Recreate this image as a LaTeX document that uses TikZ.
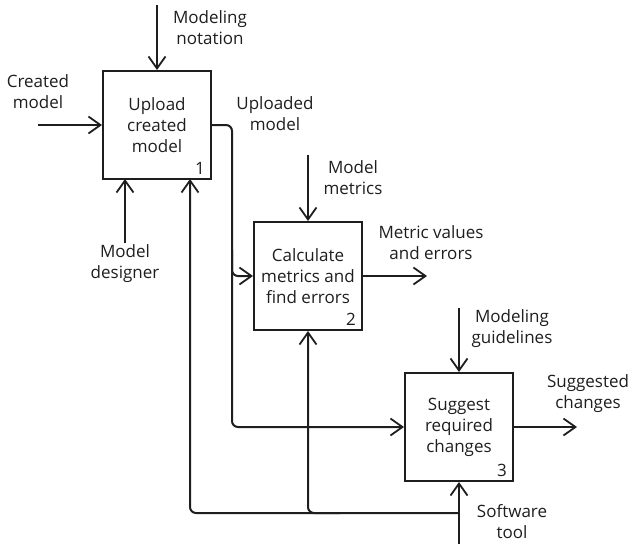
\documentclass[tikz,border=0pt]{standalone}
\usepackage{fontspec}
\setmainfont{Open Sans}
\usetikzlibrary{arrows.meta}
\definecolor{ink}{HTML}{1E1E1E}
\begin{document}
\begin{tikzpicture}[x=1pt,y=-1pt,
  every node/.style={font=\fontsize{17}{21}\selectfont, text=ink},
  proc/.style={draw=ink, line width=2pt, minimum width=108pt, minimum height=108pt, inner sep=0pt, align=center},
  lbl/.style={align=center, inner sep=0pt},
  num/.style={inner sep=0pt},
  arr/.style={draw=ink, line width=2pt, -{Straight Barb[length=12pt,width=17pt,line width=1.8pt]}}]
\useasboundingbox (0,0) rectangle (631,544);
% boxes
\node[proc] (b1) at (157,125) {Upload\\created\\model};
\node[proc] (b2) at (308,276) {Calculate\\metrics and\\find errors};
\node[proc] (b3) at (459,427) {Suggest\\required\\changes};
\node[num, anchor=base east] (n1) at (205,174) {1};
\node[num, anchor=base east] (n2) at (356,325) {2};
\node[num, anchor=base east] (n3) at (507,476) {3};
% labels
\node[lbl] (lmn) at (210,28) {Modeling\\notation};
\node[lbl] (lcm) at (38,92) {Created\\model};
\node[lbl] (lum) at (275,114) {Uploaded\\model};
\node[lbl] (lmd) at (125,264) {Model\\designer};
\node[lbl] (lmm) at (353,178) {Model\\metrics};
\node[lbl] (lmv) at (431,243) {Metric values\\and errors};
\node[lbl] (lmg) at (512,329) {Modeling\\guidelines};
\node[lbl] (lsc) at (588,394) {Suggested\\changes};
\node[lbl] (lst) at (512,522) {Software\\tool};
% free ends
\coordinate (mnTop) at (157,5);
\coordinate (cmL) at (38,125);
\coordinate (mdB) at (125,243);
\coordinate (b1m) at (125,179);
\coordinate (b1f) at (190,179);
\coordinate (mmTop) at (308,155);
\coordinate (mvR) at (427,276);
\coordinate (mgTop) at (459,308);
\coordinate (scR) at (577,427);
\coordinate (stB) at (459,544);
\coordinate (j1) at (232,350);
\coordinate (j2) at (232,250);
\coordinate (fb) at (459,513);
\coordinate (fb2) at (340,513);
% arrows
\draw[arr] (mnTop) -- (b1.north);
\draw[arr] (cmL) -- (b1.west);
\draw[arr] (mdB) -- (b1m);
\draw[arr] (mmTop) -- (b2.north);
\draw[arr] (b2.east) -- (mvR);
\draw[arr] (mgTop) -- (b3.north);
\draw[arr] (b3.east) -- (scR);
\draw[arr] (stB) -- (b3.south);
\draw[arr, rounded corners=6pt] (b1.east) -| (j1) |- (b3.west);
\draw[arr, rounded corners=6pt] (j2) |- (b2.west);
\draw[arr, rounded corners=6pt] (fb) -| (b1f);
\draw[arr, rounded corners=6pt] (fb2) -| (b2.south);
\end{tikzpicture}
\end{document}
